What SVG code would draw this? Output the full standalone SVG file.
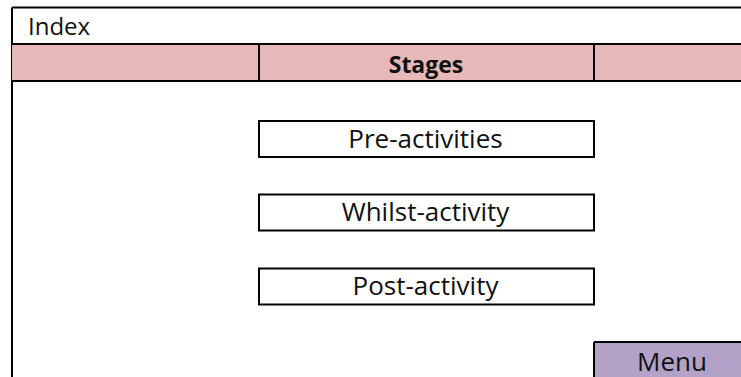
<svg xmlns="http://www.w3.org/2000/svg" width="741" height="377" viewBox="0 0 741 377">
  <style>
    .line { stroke: #000; stroke-width: 2; fill: none; }
    .box { fill: #fff; stroke: #000; stroke-width: 2; }
    .label { font-family: "Open Sans", "Liberation Sans", sans-serif; font-size: 26px; fill: #111; }
    .small { font-size: 24px; }
    .title { font-family: "Open Sans", "Liberation Sans", sans-serif; font-size: 23px; font-weight: bold; fill: #111; }
  </style>
  <rect width="741" height="377" fill="#fff"/>

  <!-- page frame: top and left edges -->
  <g id="frame">
    <line class="line" x1="12" y1="7.5" x2="741" y2="7.5"/>
    <line class="line" x1="12" y1="7.5" x2="12" y2="377"/>
    <text class="label small" x="28" y="35">Index</text>
  </g>

  <!-- header band -->
  <g id="header">
    <rect x="12" y="44" width="729" height="37" fill="#e6b8b7"/>
    <line class="line" x1="12" y1="44" x2="741" y2="44"/>
    <line class="line" x1="12" y1="81" x2="741" y2="81"/>
    <line class="line" x1="259" y1="44" x2="259" y2="81"/>
    <line class="line" x1="594" y1="44" x2="594" y2="81"/>
    <text class="title" x="426" y="72.5" text-anchor="middle">Stages</text>
  </g>

  <g id="pre-activities">
    <rect class="box" x="259" y="121" width="335" height="36"/>
    <text class="label" x="425.5" y="147.5" text-anchor="middle">Pre-activities</text>
  </g>

  <g id="whilst-activity">
    <rect class="box" x="259" y="194.5" width="335" height="36"/>
    <text class="label" x="425.5" y="221" text-anchor="middle">Whilst-activity</text>
  </g>

  <g id="post-activity">
    <rect class="box" x="259" y="268.5" width="335" height="36"/>
    <text class="label" x="425.5" y="295" text-anchor="middle">Post-activity</text>
  </g>

  <g id="menu">
    <rect x="594" y="342" width="147" height="35" fill="#b3a2c7"/>
    <line class="line" x1="594" y1="342" x2="741" y2="342"/>
    <line class="line" x1="594" y1="342" x2="594" y2="377"/>
    <text class="label" x="672" y="370.5" text-anchor="middle">Menu</text>
  </g>

  <g id="connectors"/>
</svg>
